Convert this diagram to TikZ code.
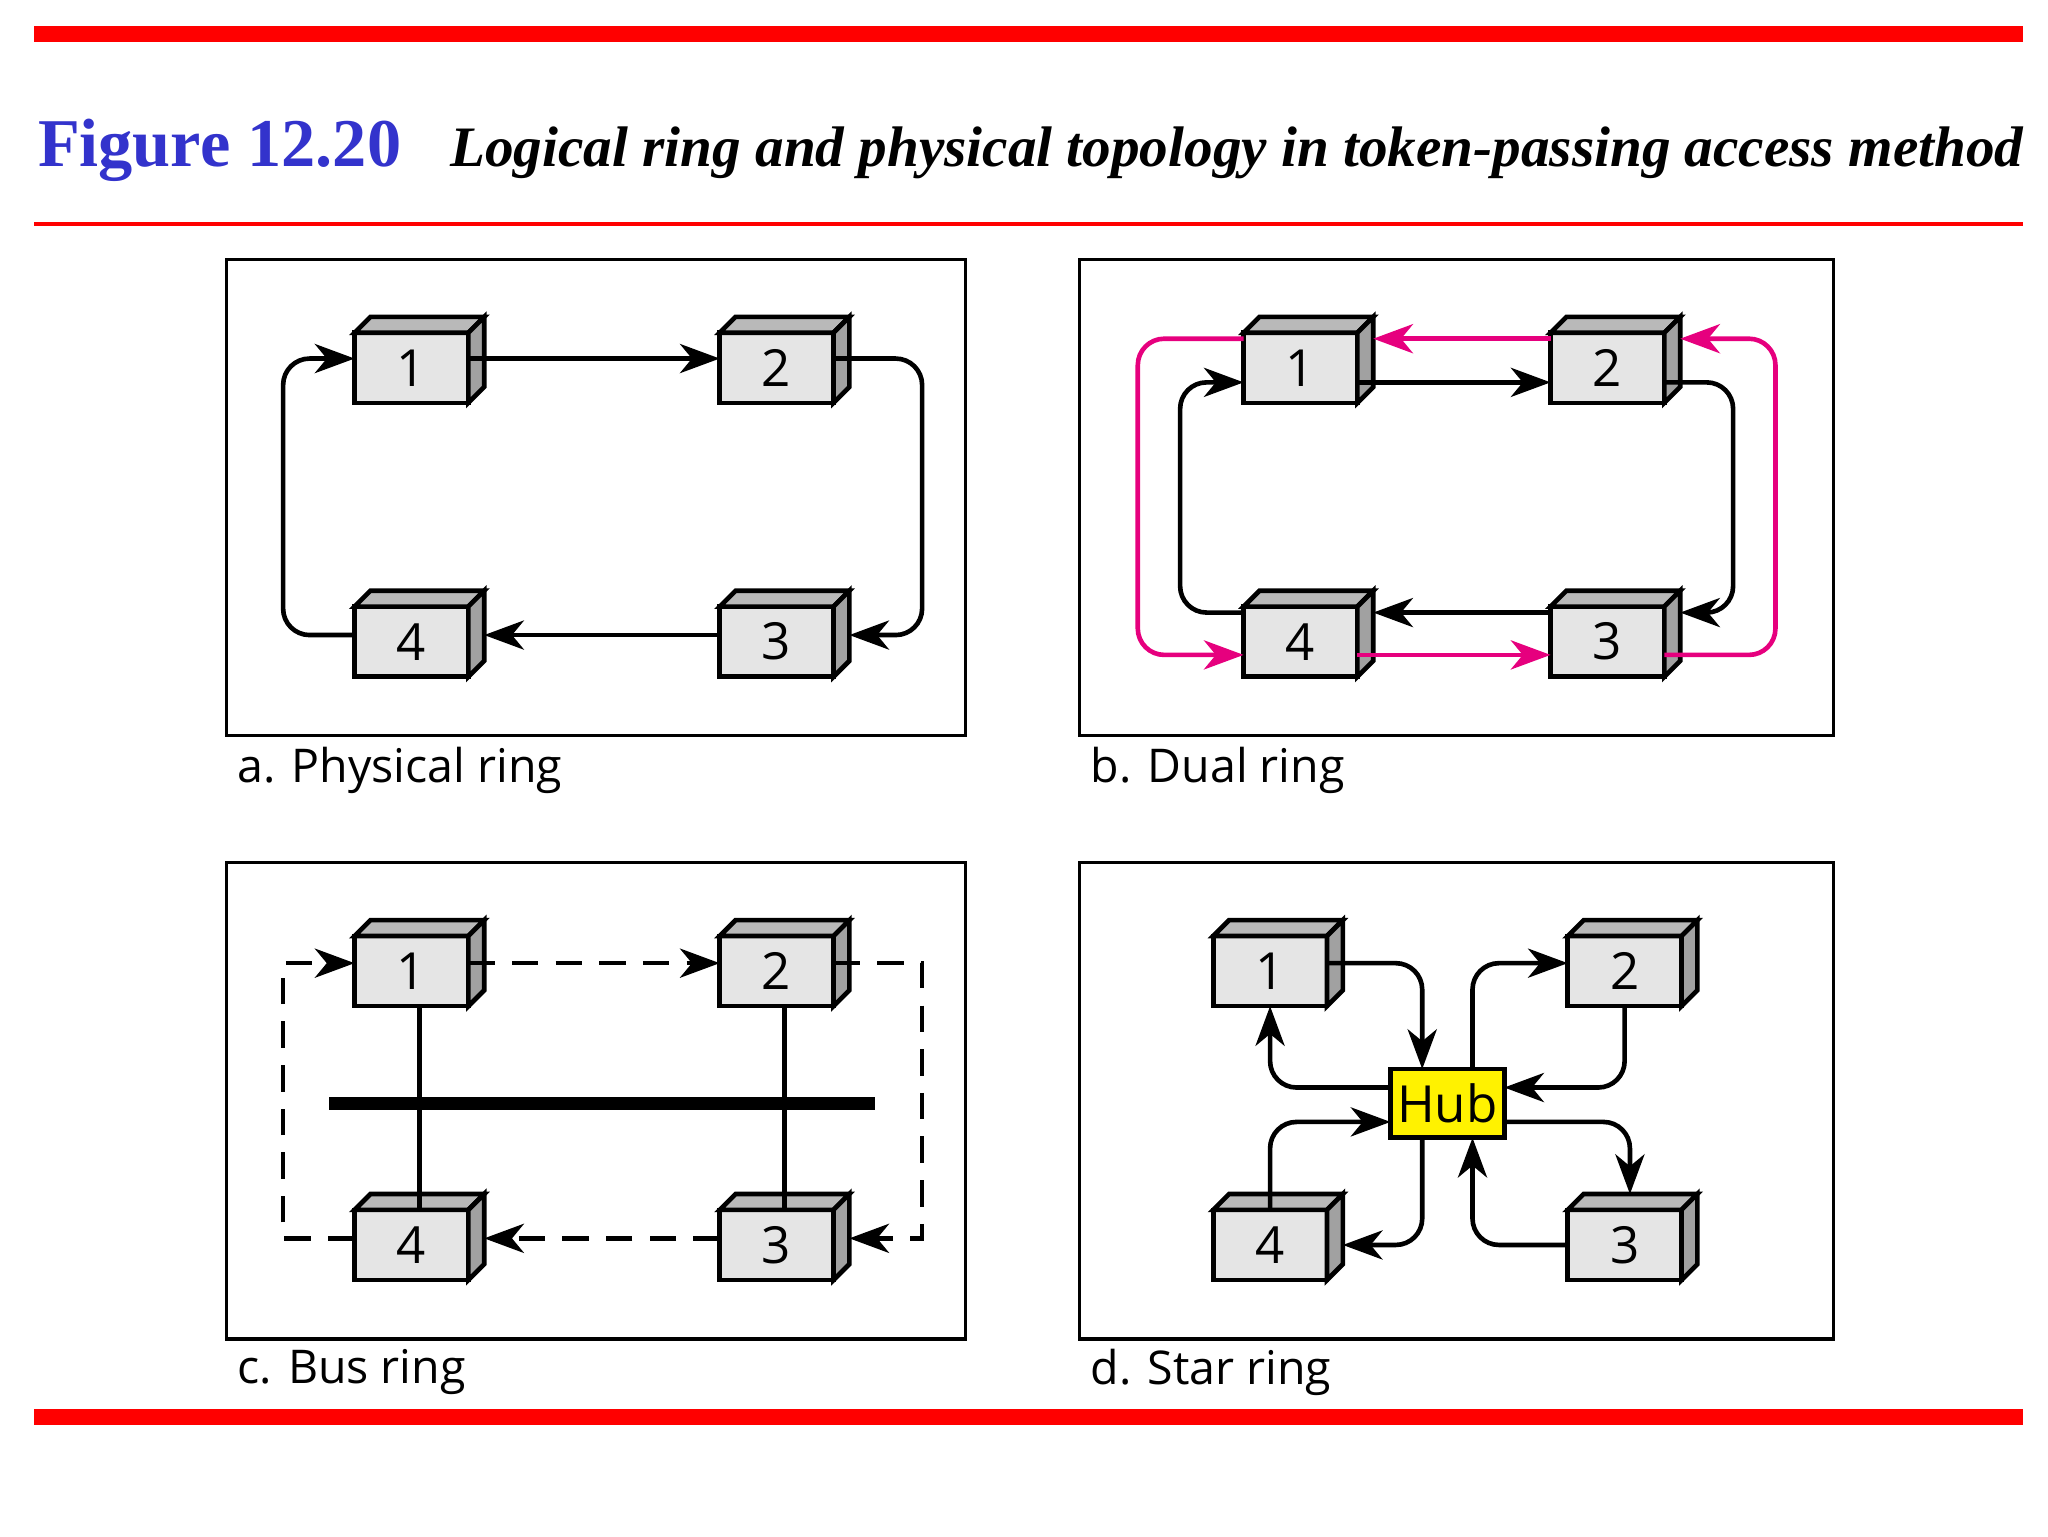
\documentclass[tikz,border=0pt]{standalone}
\usepackage{fontspec}
\setmainfont{Liberation Serif}
\newfontfamily\lab{Open Sans}
\usetikzlibrary{arrows.meta,calc}
\definecolor{figblue}{HTML}{3333CC}
\definecolor{pinkl}{HTML}{E6007E}
\newcommand\mycube[4]{%
  \node[box] (#1) at (#2,#3) {#4};
  \draw[fill=gray!55] (#1.north west) -- ++(12,-12) -- ($(#1.north east)+(12,-12)$) -- (#1.north east) -- cycle;
  \draw[fill=gray!95!black!70] (#1.north east) -- ++(12,-12) -- ($(#1.south east)+(12,-12)$) -- (#1.south east) -- cycle;}
\begin{document}
\begin{tikzpicture}[x=0.1mm,y=-0.1mm,line width=0.35mm,
  box/.style={draw,fill=gray!20,minimum width=8.6mm,minimum height=5.3mm,inner sep=0pt,outer sep=0pt,font=\lab\fontsize{11}{11}\selectfont},
  arr/.style={-{Stealth[length=3mm,width=2.2mm,inset=0.9mm]},rounded corners=2mm},
  pk/.style={arr,draw=pinkl,-{Stealth[length=3mm,width=2.2mm,inset=0.9mm,fill=pinkl]}},
  frame/.style={line width=0.25mm},
  caption/.style={anchor=west,font=\lab\fontsize{10}{10}\selectfont}]
\useasboundingbox (0,0) rectangle (1548,1161);
% rules
\fill[red] (26,20) rectangle (1529,32);
\fill[red] (26,168) rectangle (1529,171);
\fill[red] (26,1065) rectangle (1529,1077);
\node[anchor=base west,inner sep=0,font=\bfseries\fontsize{14.7}{14.7}\selectfont,text=figblue] (fig) at (27,126) {Figure 12.20};
\node[anchor=base east,inner sep=0,font=\bfseries\itshape\fontsize{12.3}{12.3}\selectfont] (ttl) at (1531,126) {Logical ring and physical topology in token-passing access method};
% frames
\draw[frame] (171,196) rectangle (730,556);
\draw[frame] (816,196) rectangle (1386,556);
\draw[frame] (171,652) rectangle (730,1012);
\draw[frame] (816,652) rectangle (1386,1012);
\node[caption] (la) at (166,582) {a. Physical ring};
\node[caption] (lb) at (811,582) {b. Dual ring};
\node[caption] (lc) at (166,1037) {c. Bus ring};
\node[caption] (ld) at (811,1037) {d. Star ring};
% panel a
\mycube{a1}{311}{278}{1}\mycube{a2}{587}{278}{2}\mycube{a4}{311}{485}{4}\mycube{a3}{587}{485}{3}
\draw[arr] ($(a1.east)+(0,-7)$) -- ($(a2.west)+(0,-7)$);
\draw[arr] ($(a2.east)+(0,-7)$) -- (697,271) -- (697,480) -- ($(a3.east)+(12,-5)$);
\draw[arr] ($(a3.west)+(0,-5)$) -- ($(a4.east)+(12,-5)$);
\draw[arr] ($(a4.west)+(0,-5)$) -- (214,480) -- (214,271) -- ($(a1.west)+(0,-7)$);
% panel b
\mycube{b1}{983}{278}{1}\mycube{b2}{1215}{278}{2}\mycube{b4}{983}{485}{4}\mycube{b3}{1215}{485}{3}
\draw[arr] ($(b1.east)+(0,11)$) -- ($(b2.west)+(0,11)$);
\draw[arr] ($(b2.east)+(0,11)$) -- (1310,289) -- (1310,463) -- ($(b3.east)+(12,-22)$);
\draw[arr] ($(b3.west)+(0,-22)$) -- ($(b4.east)+(12,-22)$);
\draw[arr] ($(b4.west)+(0,-22)$) -- (892,463) -- (892,289) -- ($(b1.west)+(0,11)$);
\draw[pk] ($(b2.west)+(0,-22)$) -- ($(b1.east)+(12,-22)$);
\draw[pk] ($(b3.east)+(0,10)$) -- (1342,495) -- (1342,256) -- ($(b2.east)+(12,-22)$);
\draw[pk] ($(b1.west)+(0,-22)$) -- (860,256) -- (860,495) -- ($(b4.west)+(0,10)$);
\draw[pk] ($(b4.east)+(0,10)$) -- ($(b3.west)+(0,10)$);
% panel c
\mycube{c1}{311}{734}{1}\mycube{c2}{587}{734}{2}\mycube{c4}{311}{941}{4}\mycube{c3}{587}{941}{3}
\draw[line width=1mm] (249,834) -- (661,834);
\draw ($(c1.south)+(6,0)$) -- ($(c4.north)+(6,0)$);
\draw ($(c2.south)+(6,0)$) -- ($(c3.north)+(6,0)$);
\begin{scope}[dash pattern=on 2mm off 1.3mm]
\draw[arr,rounded corners=0] ($(c1.east)+(0,-6)$) -- ($(c2.west)+(0,-6)$);
\draw[arr,rounded corners=0] ($(c2.east)+(0,-6)$) -- (697,728) -- (697,936) -- ($(c3.east)+(12,-5)$);
\draw[arr,rounded corners=0] ($(c3.west)+(0,-5)$) -- ($(c4.east)+(12,-5)$);
\draw[arr,rounded corners=0] ($(c4.west)+(0,-5)$) -- (214,936) -- (214,728) -- ($(c1.west)+(0,-6)$);
\end{scope}
% panel d
\mycube{d1}{960}{734}{1}\mycube{d2}{1228}{734}{2}\mycube{d4}{960}{941}{4}\mycube{d3}{1228}{941}{3}
\node[draw,fill=yellow,minimum width=8.6mm,minimum height=5.2mm,inner sep=0,outer sep=0,font=\lab\fontsize{11}{11}\selectfont] (hub) at (1094,834) {Hub};
\draw[arr] ($(d1.east)+(0,-6)$) -- (1075,728) -- (1075,808);
\draw[arr] (1113,808) -- (1113,728) -- ($(d2.west)+(0,-6)$);
\draw[arr] (d2.south) -- (1228,822) -- ($(hub.east)+(0,-12)$);
\draw[arr] ($(hub.east)+(0,14)$) -- (1232,848) -- ($(d3.north)+(4,-12)$);
\draw[arr] (d3.west) -- (1113,941) -- (1113,860);
\draw[arr] (1075,860) -- (1075,941) -- ($(d4.east)+(12,0)$);
\draw[arr] (d4.north) -- (960,848) -- ($(hub.west)+(0,14)$);
\draw[arr] ($(hub.west)+(0,-12)$) -- (960,822) -- (d1.south);
\end{tikzpicture}
\end{document}
